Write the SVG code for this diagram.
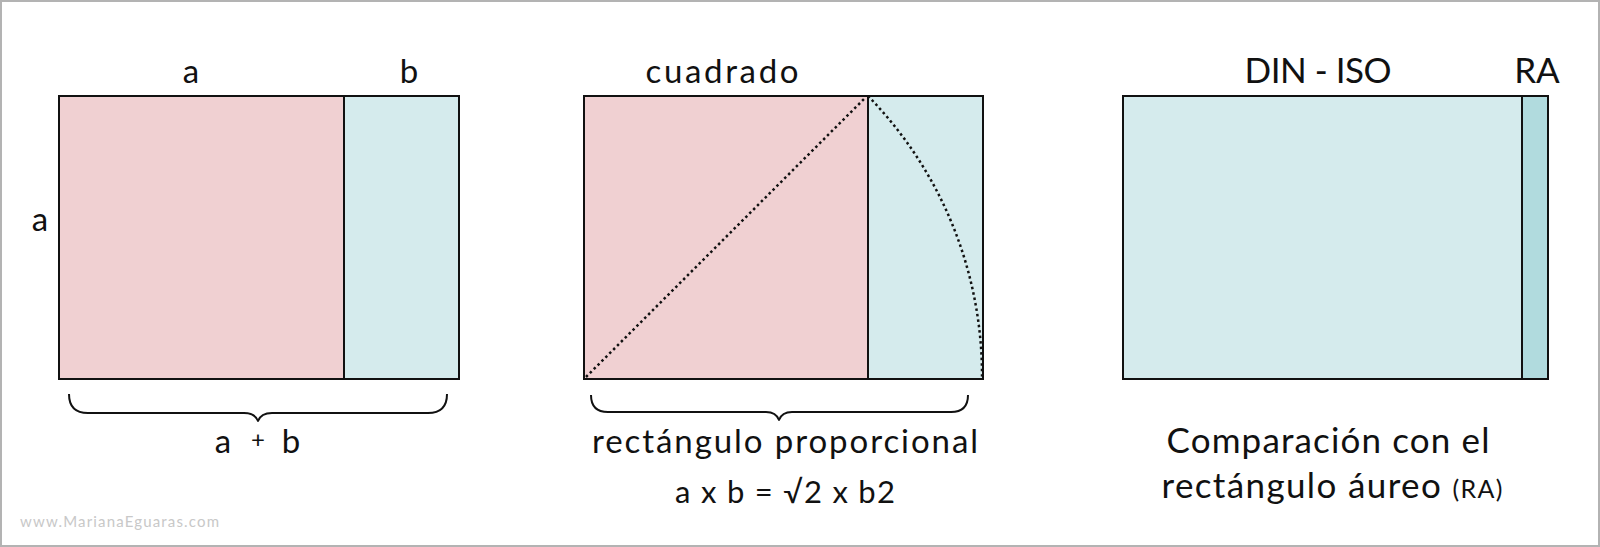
<svg xmlns="http://www.w3.org/2000/svg" width="1600" height="547" viewBox="0 0 1600 547">
<style>
.t{font-family:Lato,"Open Sans","Liberation Sans",sans-serif;fill:#111;text-anchor:middle}
.frame{fill:#fff;stroke:#b3b3b3;stroke-width:2}
.pink{fill:#f0d0d2;stroke:#111;stroke-width:2}
.blue{fill:#d5ebed;stroke:#111;stroke-width:2}
.teal{fill:#b1dbde;stroke:#111;stroke-width:2}
.dot{fill:none;stroke:#111;stroke-width:2.5;stroke-dasharray:2.5 3}
.brace{fill:none;stroke:#111;stroke-width:2;stroke-linejoin:round}
.wm{font-family:Lato,"Open Sans","Liberation Sans",sans-serif;font-size:15px;fill:#c8c8c8}
</style>
<rect class="frame" x="1" y="1" width="1598" height="545"/>

<g id="golden">
<rect class="pink" x="59" y="96" width="285" height="283"/>
<rect class="blue" x="344" y="96" width="115" height="283"/>
<text class="t" x="191" y="83" font-size="33">a</text>
<text class="t" x="409" y="83" font-size="33">b</text>
<text class="t" x="40" y="231" font-size="33">a</text>
<text class="t" x="223" y="453" font-size="33">a</text>
<text class="t" x="258" y="448" font-size="24">+</text>
<text class="t" x="291" y="453" font-size="33">b</text>
</g>

<g id="din">
<rect class="pink" x="584" y="96" width="284" height="283"/>
<rect class="blue" x="868" y="96" width="115" height="283"/>
<text class="t" x="722" y="83" font-size="33" textLength="153">cuadrado</text>
<text class="t" x="785" y="453" font-size="33" textLength="386">rectángulo proporcional</text>
<text class="t" x="785" y="503" font-size="31" textLength="220">a x b = √2 x b2</text>
</g>

<g id="compare">
<rect class="blue" x="1123" y="96" width="399" height="283"/>
<rect class="teal" x="1522" y="96" width="26" height="283"/>
<text class="t" x="1318" y="83" font-size="35" textLength="147">DIN - ISO</text>
<text class="t" x="1537" y="83" font-size="35">RA</text>
<text class="t" x="1328" y="453" font-size="35" textLength="323">Comparación con el</text>
<text class="t" x="1332" y="498" font-size="35" textLength="341"><tspan>rectángulo áureo </tspan><tspan font-size="25">(RA)</tspan></text>
</g>

<g id="connectors">
<line class="dot" x1="586" y1="377" x2="866" y2="97"/>
<path class="dot" d="M868,96 A400,400 0 0 1 982,379"/>
<path class="brace" d="M69,394 Q69,413 88,413 L244,413 Q255,413 258,421 Q261,413 272,413 L428,413 Q447,413 447,394"/>
<path class="brace" d="M591,395 Q591,412 608,412 L766,412 Q776,412 779,420 Q782,412 792,412 L951,412 Q968,412 968,395"/>
</g>

<text class="wm" x="20" y="527" textLength="199">www.MarianaEguaras.com</text>
</svg>
